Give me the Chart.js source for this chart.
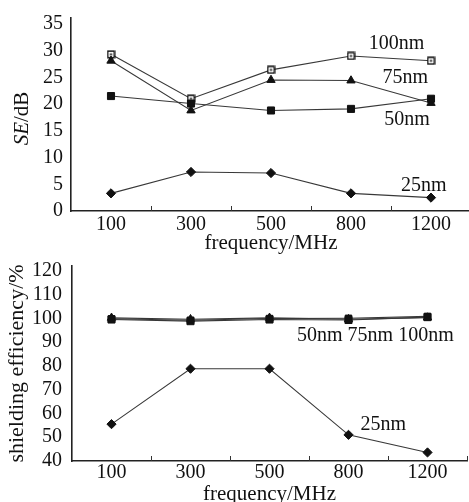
<!DOCTYPE html>
<html><head><meta charset="utf-8">
<script src="https://cdn.jsdelivr.net/npm/chart.js@4/dist/chart.umd.min.js"></script>
<style>
html,body{margin:0;padding:0;background:#fff;overflow:hidden;width:469px;height:502px;}
#wrap{position:relative;width:469px;height:502px;overflow:hidden;background:#fff;}
#c1{position:absolute;left:0;top:0;}
#c2{position:absolute;left:0;top:246px;}
</style></head><body>
<div id="wrap">
<canvas id="c1" width="480" height="262"></canvas>
<canvas id="c2" width="480" height="262"></canvas>
</div>
<script>
// ---------- data ----------
const categories = ['100', '300', '500', '800', '1200'];

// top chart: SE/dB
const se100nm = [29.3, 21.0, 26.4, 29.0, 28.1];
const se75nm  = [28.1, 18.8, 24.5, 24.4, 20.2];
const se50nm  = [21.5, 20.1, 18.8, 19.1, 21.0];
const se25nm  = [3.3, 7.3, 7.1, 3.3, 2.5];

// bottom chart: shielding efficiency/%
const eff100nm = [99.8, 99.2, 99.9, 100.0, 100.8];
const eff75nm  = [100.2, 99.6, 100.2, 99.6, 100.3];
const eff50nm  = [99.5, 98.8, 99.5, 99.3, 100.5];
const eff25nm  = [55.5, 78.8, 78.8, 51.0, 43.6];

const seTicks = [0, 5, 10, 15, 20, 25, 30, 35];
const effTicks = [40, 50, 60, 70, 80, 90, 100, 110, 120];

// series label texts and anchors (category index, value)
const topLabelText = ['100nm', '75nm', '50nm', '25nm'];
const topLabelX = [3.57, 3.68, 3.70, 3.91];
const topLabelY = [31.2, 24.9, 17.0, 4.65];
const botLabelText = ['50nm 75nm 100nm', '25nm'];
const botLabelX = [3.34, 3.44];
const botLabelY = [92.65, 55.1];

// ---------- styles ----------
const FONT = '"Liberation Serif", "Times New Roman", serif';
const INK = '#111111';
const LINE = '#383838';

function boxDot() {
  const c = document.createElement('canvas');
  c.width = 9; c.height = 9;
  const g = c.getContext('2d');
  g.fillStyle = '#fff'; g.fillRect(1, 1, 7, 7);
  g.strokeStyle = INK; g.lineWidth = 1.5; g.strokeRect(1.2, 1.2, 6.6, 6.6);
  g.fillStyle = INK; g.fillRect(3.5, 3.5, 2, 2);
  return c;
}

function ds(label, data, style, radius) {
  return {
    label, data,
    borderColor: LINE, borderWidth: 1.1,
    pointStyle: style, pointRadius: radius, pointHoverRadius: radius,
    pointBackgroundColor: INK, pointBorderColor: INK, pointBorderWidth: 1,
    tension: 0, fill: false
  };
}

const annot = {
  id: 'annot',
  afterDraw(chart, args, opts) {
    const {ctx} = chart;
    const x = chart.scales.x, y = chart.scales.y;
    ctx.save();
    // inside tick marks at category boundaries
    ctx.strokeStyle = '#333'; ctx.lineWidth = 1;
    const step = x.getPixelForValue(1) - x.getPixelForValue(0);
    for (let i = 0; i < categories.length; i++) {
      const px = Math.round(x.getPixelForValue(i) + step / 2) + 0.5;
      ctx.beginPath(); ctx.moveTo(px, y.bottom); ctx.lineTo(px, y.bottom - 5); ctx.stroke();
    }
    // series labels
    ctx.font = '20px ' + FONT; ctx.fillStyle = INK;
    ctx.textAlign = 'center'; ctx.textBaseline = 'middle';
    opts.text.forEach((t, i) => {
      ctx.fillText(t, x.getPixelForValue(opts.xs[i]), y.getPixelForValue(opts.ys[i]));
    });
    // mixed-style y title
    if (opts.seTitle) {
      ctx.translate(28, (y.top + y.bottom) / 2 + 4);
      ctx.rotate(-Math.PI / 2);
      ctx.textBaseline = 'alphabetic'; ctx.textAlign = 'left';
      ctx.font = 'italic 21px ' + FONT;
      const w1 = ctx.measureText('SE').width;
      ctx.font = '21px ' + FONT;
      const w2 = ctx.measureText('/dB').width;
      const x0 = -(w1 + w2) / 2;
      ctx.font = 'italic 21px ' + FONT;
      ctx.fillText('SE', x0, 0);
      ctx.font = '21px ' + FONT;
      ctx.fillText('/dB', x0 + w1, 0);
    }
    ctx.restore();
  }
};

function makeChart(id, datasets, cfg) {
  return new Chart(document.getElementById(id), {
    type: 'line',
    data: { labels: categories, datasets },
    plugins: [annot],
    options: {
      responsive: false, animation: false, devicePixelRatio: 1,
      layout: { padding: { left: 0, right: cfg.padRight, top: cfg.padTop, bottom: 0 } },
      plugins: {
        legend: { display: false }, tooltip: { enabled: false },
        annot: { text: cfg.labelText, xs: cfg.labelX, ys: cfg.labelY, seTitle: cfg.seTitle }
      },
      scales: {
        x: {
          type: 'category', offset: true,
          grid: { display: false, drawTicks: false },
          border: { display: true, color: '#222', width: 1.6 },
          ticks: { color: INK, font: { family: FONT, size: 20, lineHeight: 1 }, padding: cfg.xTickPad, maxRotation: 0, autoSkip: false },
          title: { display: true, text: 'frequency/MHz', color: INK, font: { family: FONT, size: 21, lineHeight: 1 }, padding: { top: 0, bottom: cfg.xTitlePad } },
          afterFit: s => { s.height = cfg.xHeight; }
        },
        y: {
          min: cfg.min, max: cfg.max,
          grid: { display: false, drawTicks: false },
          border: { display: true, color: '#222', width: 1.6 },
          ticks: { stepSize: cfg.step, color: INK, font: { family: FONT, size: 20, lineHeight: 1 }, padding: cfg.yTickPad },
          afterBuildTicks: s => { s.ticks = cfg.ticks.map(v => ({ value: v })); },
          title: cfg.yTitle ? { display: true, text: cfg.yTitle, color: INK, font: { family: FONT, size: 22, lineHeight: 1 }, padding: { top: cfg.yTitlePad, bottom: 0 } } : { display: false },
          afterFit: s => { s.width = cfg.yWidth; }
        }
      }
    }
  });
}

const top1 = makeChart('c1', [
  ds('25nm', se25nm, 'rectRot', 4.6),
  ds('50nm', se50nm, 'rect', 5),
  ds('75nm', se75nm, 'triangle', 4.8),
  ds('100nm', se100nm, boxDot(), 5)
], {
  padRight: 9, padTop: 13, xHeight: 51, yWidth: 71,
  min: 0, max: 36.1, step: 5, ticks: seTicks,
  xTickPad: 4, xTitlePad: 8, yTickPad: 8,
  yTitle: null, seTitle: true,
  labelText: topLabelText, labelX: topLabelX, labelY: topLabelY
});

const bot = makeChart('c2', [
  ds('25nm', eff25nm, 'rectRot', 4.6),
  ds('50nm', eff50nm, 'rect', 5),
  ds('75nm', eff75nm, 'triangle', 4.8),
  ds('100nm', eff100nm, 'rect', 4.6)
], {
  padRight: 13, padTop: 14, xHeight: 47, yWidth: 72,
  min: 40, max: 122, step: 10, ticks: effTicks,
  xTickPad: 2, xTitlePad: 3, yTickPad: 10,
  yTitle: 'shielding efficiency/%', yTitlePad: 6, seTitle: false,
  labelText: botLabelText, labelX: botLabelX, labelY: botLabelY
});
</script>
</body></html>
